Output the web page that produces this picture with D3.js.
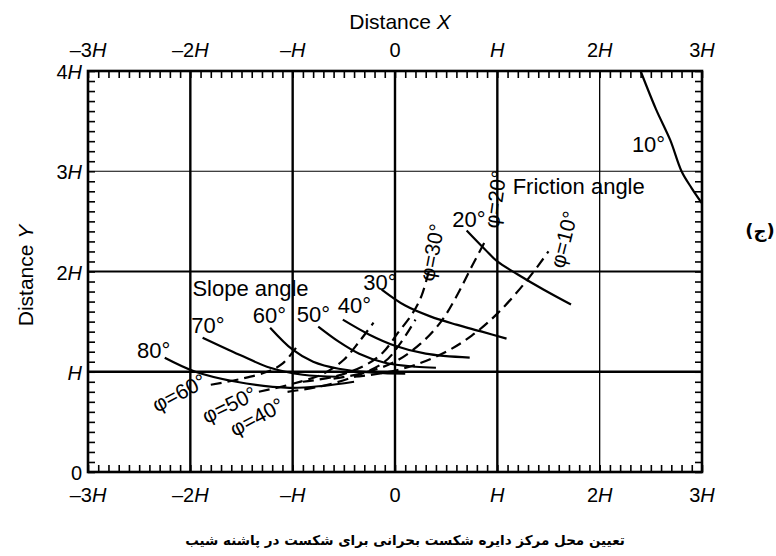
<!DOCTYPE html>
<html><head><meta charset="utf-8">
<script src="https://cdn.jsdelivr.net/npm/d3@7"></script>
<style>body{margin:0;background:#fff}svg{display:block}</style>
</head><body><svg id="c" width="776" height="556"></svg>
<script>
// ---- data (in units of H) ----
const xTickValues = [-3, -2, -1, 0, 1, 2, 3];
const xTickLabels = ["–3H", "–2H", "–H", "0", "H", "2H", "3H"];
const yTickValues = [0, 1, 2, 3, 4];
const yTickLabels = ["0", "H", "2H", "3H", "4H"];
const gridX = [-2, -1, 0, 1, 2];
const gridY = [1, 2, 3];

// solid curves: slope angle
const slopeAngles = ["10°", "20°", "30°", "40°", "50°", "60°", "70°", "80°"];
const slope10 = [[2.40, 4.0], [2.55, 3.62], [2.69, 3.31], [2.80, 3.0], [2.90, 2.83], [3.0, 2.68]];
const slope20 = [[0.70, 2.41], [0.88, 2.22], [1.0, 2.10], [1.2, 1.97], [1.45, 1.82], [1.72, 1.67]];
const slope30 = [[-0.13, 1.82], [0.1, 1.66], [0.35, 1.55], [0.6, 1.47], [0.85, 1.40], [1.09, 1.33]];
const slope40 = [[-0.51, 1.52], [-0.25, 1.37], [0.0, 1.26], [0.3, 1.18], [0.73, 1.14]];
const slope50 = [[-0.75, 1.45], [-0.55, 1.30], [-0.35, 1.18], [-0.1, 1.09], [0.2, 1.05], [0.4, 1.04]];
const slope60 = [[-1.22, 1.44], [-1.0, 1.22], [-0.8, 1.10], [-0.55, 1.03], [-0.2, 0.99], [0.1, 0.98]];
const slope70 = [[-1.88, 1.34], [-1.52, 1.17], [-1.22, 1.04], [-0.9, 0.97], [-0.55, 0.95]];
const slope80 = [[-2.25, 1.14], [-1.95, 1.0], [-1.55, 0.9], [-1.03, 0.84], [-0.7, 0.86], [-0.4, 0.9]];
const slopeLabelPos = [[2.64, 3.19, "end"], [0.56, 2.44, "start"], [-0.31, 1.82, "start"], [-0.56, 1.59, "start"], [-0.96, 1.50, "start"], [-1.39, 1.49, "start"], [-1.99, 1.39, "start"], [-2.52, 1.14, "start"]];

// dashed curves: friction angle
const frictionAngles = ["φ=10°", "φ=20°", "φ=30°", "φ=40°", "φ=50°", "φ=60°"];
const phi10 = [[-0.4, 0.95], [-0.1, 0.99], [0.2, 1.07], [0.5, 1.2], [0.75, 1.36], [1.0, 1.58], [1.28, 1.9], [1.5, 2.2]];
const phi20 = [[-0.6, 0.93], [-0.3, 0.99], [0.0, 1.1], [0.25, 1.28], [0.45, 1.5], [0.6, 1.75], [0.75, 2.05], [0.88, 2.3]];
const phi30 = [[-0.9, 0.9], [-0.6, 0.95], [-0.3, 1.06], [-0.12, 1.19], [0.03, 1.39], [0.17, 1.58], [0.26, 1.76], [0.34, 2.04]];
const phi40 = [[-1.05, 0.8], [-0.7, 0.86], [-0.35, 0.97], [-0.1, 1.1], [0.05, 1.28], [0.2, 1.52]];
const phi50 = [[-1.33, 0.8], [-1.0, 0.88], [-0.7, 0.98], [-0.5, 1.12], [-0.35, 1.3], [-0.21, 1.49]];
const phi60 = [[-1.8, 0.87], [-1.5, 0.93], [-1.25, 1.0], [-1.1, 1.08], [-0.96, 1.25]];
const frictionLabelPos = [[1.65, 2.32, -76], [0.98, 2.72, -82], [0.36, 2.19, -79], [-1.35, 0.55, -28], [-1.62, 0.67, -26], [-2.11, 0.79, -28]];

const captionText = "تعیین محل مرکز دایره شکست بحرانی برای شکست در پاشنه شیب";
const sideMark = "(ج)";

// ---- layout ----
const svg = d3.select("#c");
const L = 88, R = 702, T = 71, B = 472;
const x = d3.scaleLinear().domain([-3, 3]).range([L, R]);
const y = d3.scaleLinear().domain([0, 4]).range([B, T]);
const FONT = "'Liberation Sans', Arial, Helvetica, sans-serif";

// grid
const gridXW = [2.4, 2.4, 2.4, 2.4, 1.3];
const gridYW = [2.4, 2.2, 1.1];
svg.append("g").selectAll("line").data(gridX).join("line")
  .attr("x1", d => x(d)).attr("x2", d => x(d)).attr("y1", y(0)).attr("y2", y(4))
  .attr("stroke", "#000").attr("stroke-width", (d, i) => gridXW[i]);
svg.append("g").selectAll("line").data(gridY).join("line")
  .attr("y1", d => y(d)).attr("y2", d => y(d)).attr("x1", x(-3)).attr("x2", x(3))
  .attr("stroke", "#000").attr("stroke-width", (d, i) => gridYW[i]);

// minor ticks on all four sides (inward)
const tk = 7;
const xMinor = d3.range(-30, 31).map(v => v / 10);
const yMinor = d3.range(0, 41).map(v => v / 10);
svg.append("g").attr("transform", `translate(0,${B - tk})`).call(d3.axisBottom(x).tickValues(xMinor).tickSize(tk).tickFormat(""));
svg.append("g").attr("transform", `translate(0,${T + tk})`).call(d3.axisTop(x).tickValues(xMinor).tickSize(tk).tickFormat(""));
svg.append("g").attr("transform", `translate(${L + tk},0)`).call(d3.axisLeft(y).tickValues(yMinor).tickSize(tk).tickFormat(""));
svg.append("g").attr("transform", `translate(${R - tk},0)`).call(d3.axisRight(y).tickValues(yMinor).tickSize(tk).tickFormat(""));
svg.selectAll(".domain").remove();
svg.selectAll(".tick line").attr("stroke", "#000").attr("stroke-width", 1.6);

// frame
svg.append("rect").attr("x", L).attr("y", T).attr("width", R - L).attr("height", B - T)
  .attr("fill", "none").attr("stroke", "#000").attr("stroke-width", 2.6);

// tick labels with italic H
function hLabel(sel, s) {
  const m = s.match(/^(.*?)(H?)$/);
  sel.append("tspan").text(m[1]);
  if (m[2]) sel.append("tspan").attr("font-style", "italic").text("H");
}
const tickFS = 20;
[B + 30, T - 14].forEach(yy => {
  svg.append("g").selectAll("text").data(xTickValues).join("text")
    .attr("x", d => x(d)).attr("y", yy).attr("text-anchor", "middle")
    .attr("font-family", FONT).attr("font-size", tickFS)
    .each(function (d, i) { hLabel(d3.select(this), xTickLabels[i]); });
});
svg.append("g").selectAll("text").data(yTickValues).join("text")
  .attr("x", L - 6).attr("y", d => y(d) + 8).attr("text-anchor", "end")
  .attr("font-family", FONT).attr("font-size", tickFS)
  .each(function (d, i) { hLabel(d3.select(this), yTickLabels[i]); });

// axis titles
const tx = svg.append("text").attr("x", (L + R) / 2 + 5).attr("y", 29).attr("text-anchor", "middle")
  .attr("font-family", FONT).attr("font-size", 21);
tx.append("tspan").text("Distance ");
tx.append("tspan").attr("font-style", "italic").text("X");
const ty = svg.append("text").attr("transform", `translate(33,${(T + B) / 2 + 4}) rotate(-90)`)
  .attr("text-anchor", "middle").attr("font-family", FONT).attr("font-size", 21);
ty.append("tspan").text("Distance ");
ty.append("tspan").attr("font-style", "italic").text("Y");

// curves
const line = d3.line().x(d => x(d[0])).y(d => y(d[1])).curve(d3.curveCatmullRom.alpha(0.5));
const slopeCurves = [slope10, slope20, slope30, slope40, slope50, slope60, slope70, slope80];
const plot = svg.append("g");
plot.selectAll("path.s").data(slopeCurves).join("path").attr("class", "s")
  .attr("d", line).attr("fill", "none").attr("stroke", "#000").attr("stroke-width", 2.2);
const phiCurves = [phi10, phi20, phi30, phi40, phi50, phi60];
plot.selectAll("path.f").data(phiCurves).join("path").attr("class", "f")
  .attr("d", line).attr("fill", "none").attr("stroke", "#000").attr("stroke-width", 2.2)
  .attr("stroke-dasharray", "11,6");

// labels
const labFS = 22;
plot.selectAll("text.sl").data(slopeAngles).join("text").attr("class", "sl")
  .attr("x", (d, i) => x(slopeLabelPos[i][0])).attr("y", (d, i) => y(slopeLabelPos[i][1]))
  .attr("text-anchor", (d, i) => slopeLabelPos[i][2])
  .attr("font-family", FONT).attr("font-size", labFS).text(d => d);
plot.selectAll("text.fl").data(frictionAngles).join("text").attr("class", "fl")
  .attr("transform", (d, i) => `translate(${x(frictionLabelPos[i][0])},${y(frictionLabelPos[i][1])}) rotate(${frictionLabelPos[i][2]})`)
  .attr("text-anchor", "middle").attr("dy", "0.35em")
  .attr("font-family", FONT).attr("font-size", 21).text(d => d);

const annotations = [["Slope angle", -1.98, 1.76], ["Friction angle", 1.15, 2.77]];
plot.selectAll("text.an").data(annotations).join("text").attr("class", "an")
  .attr("x", d => x(d[1])).attr("y", d => y(d[2]))
  .attr("font-family", FONT).attr("font-size", labFS).text(d => d[0]);

// side mark and caption
svg.append("text").attr("x", 760).attr("y", 237).attr("text-anchor", "middle")
  .attr("font-family", "'DejaVu Sans', sans-serif").attr("font-size", 18).attr("font-weight", "bold").text(sideMark);
const cap = svg.append("text").attr("x", 405).attr("y", 545).attr("text-anchor", "middle").attr("direction", "rtl")
  .attr("font-family", "'DejaVu Sans', sans-serif").attr("font-size", 16).attr("font-weight", "bold")
  .text(captionText);
// fit caption to the width it spans in the reference (~440 px)
const capW = cap.node().getComputedTextLength();
if (capW > 0) cap.attr("font-size", Math.min(20, 16 * 440 / capW));
</script></body></html>
